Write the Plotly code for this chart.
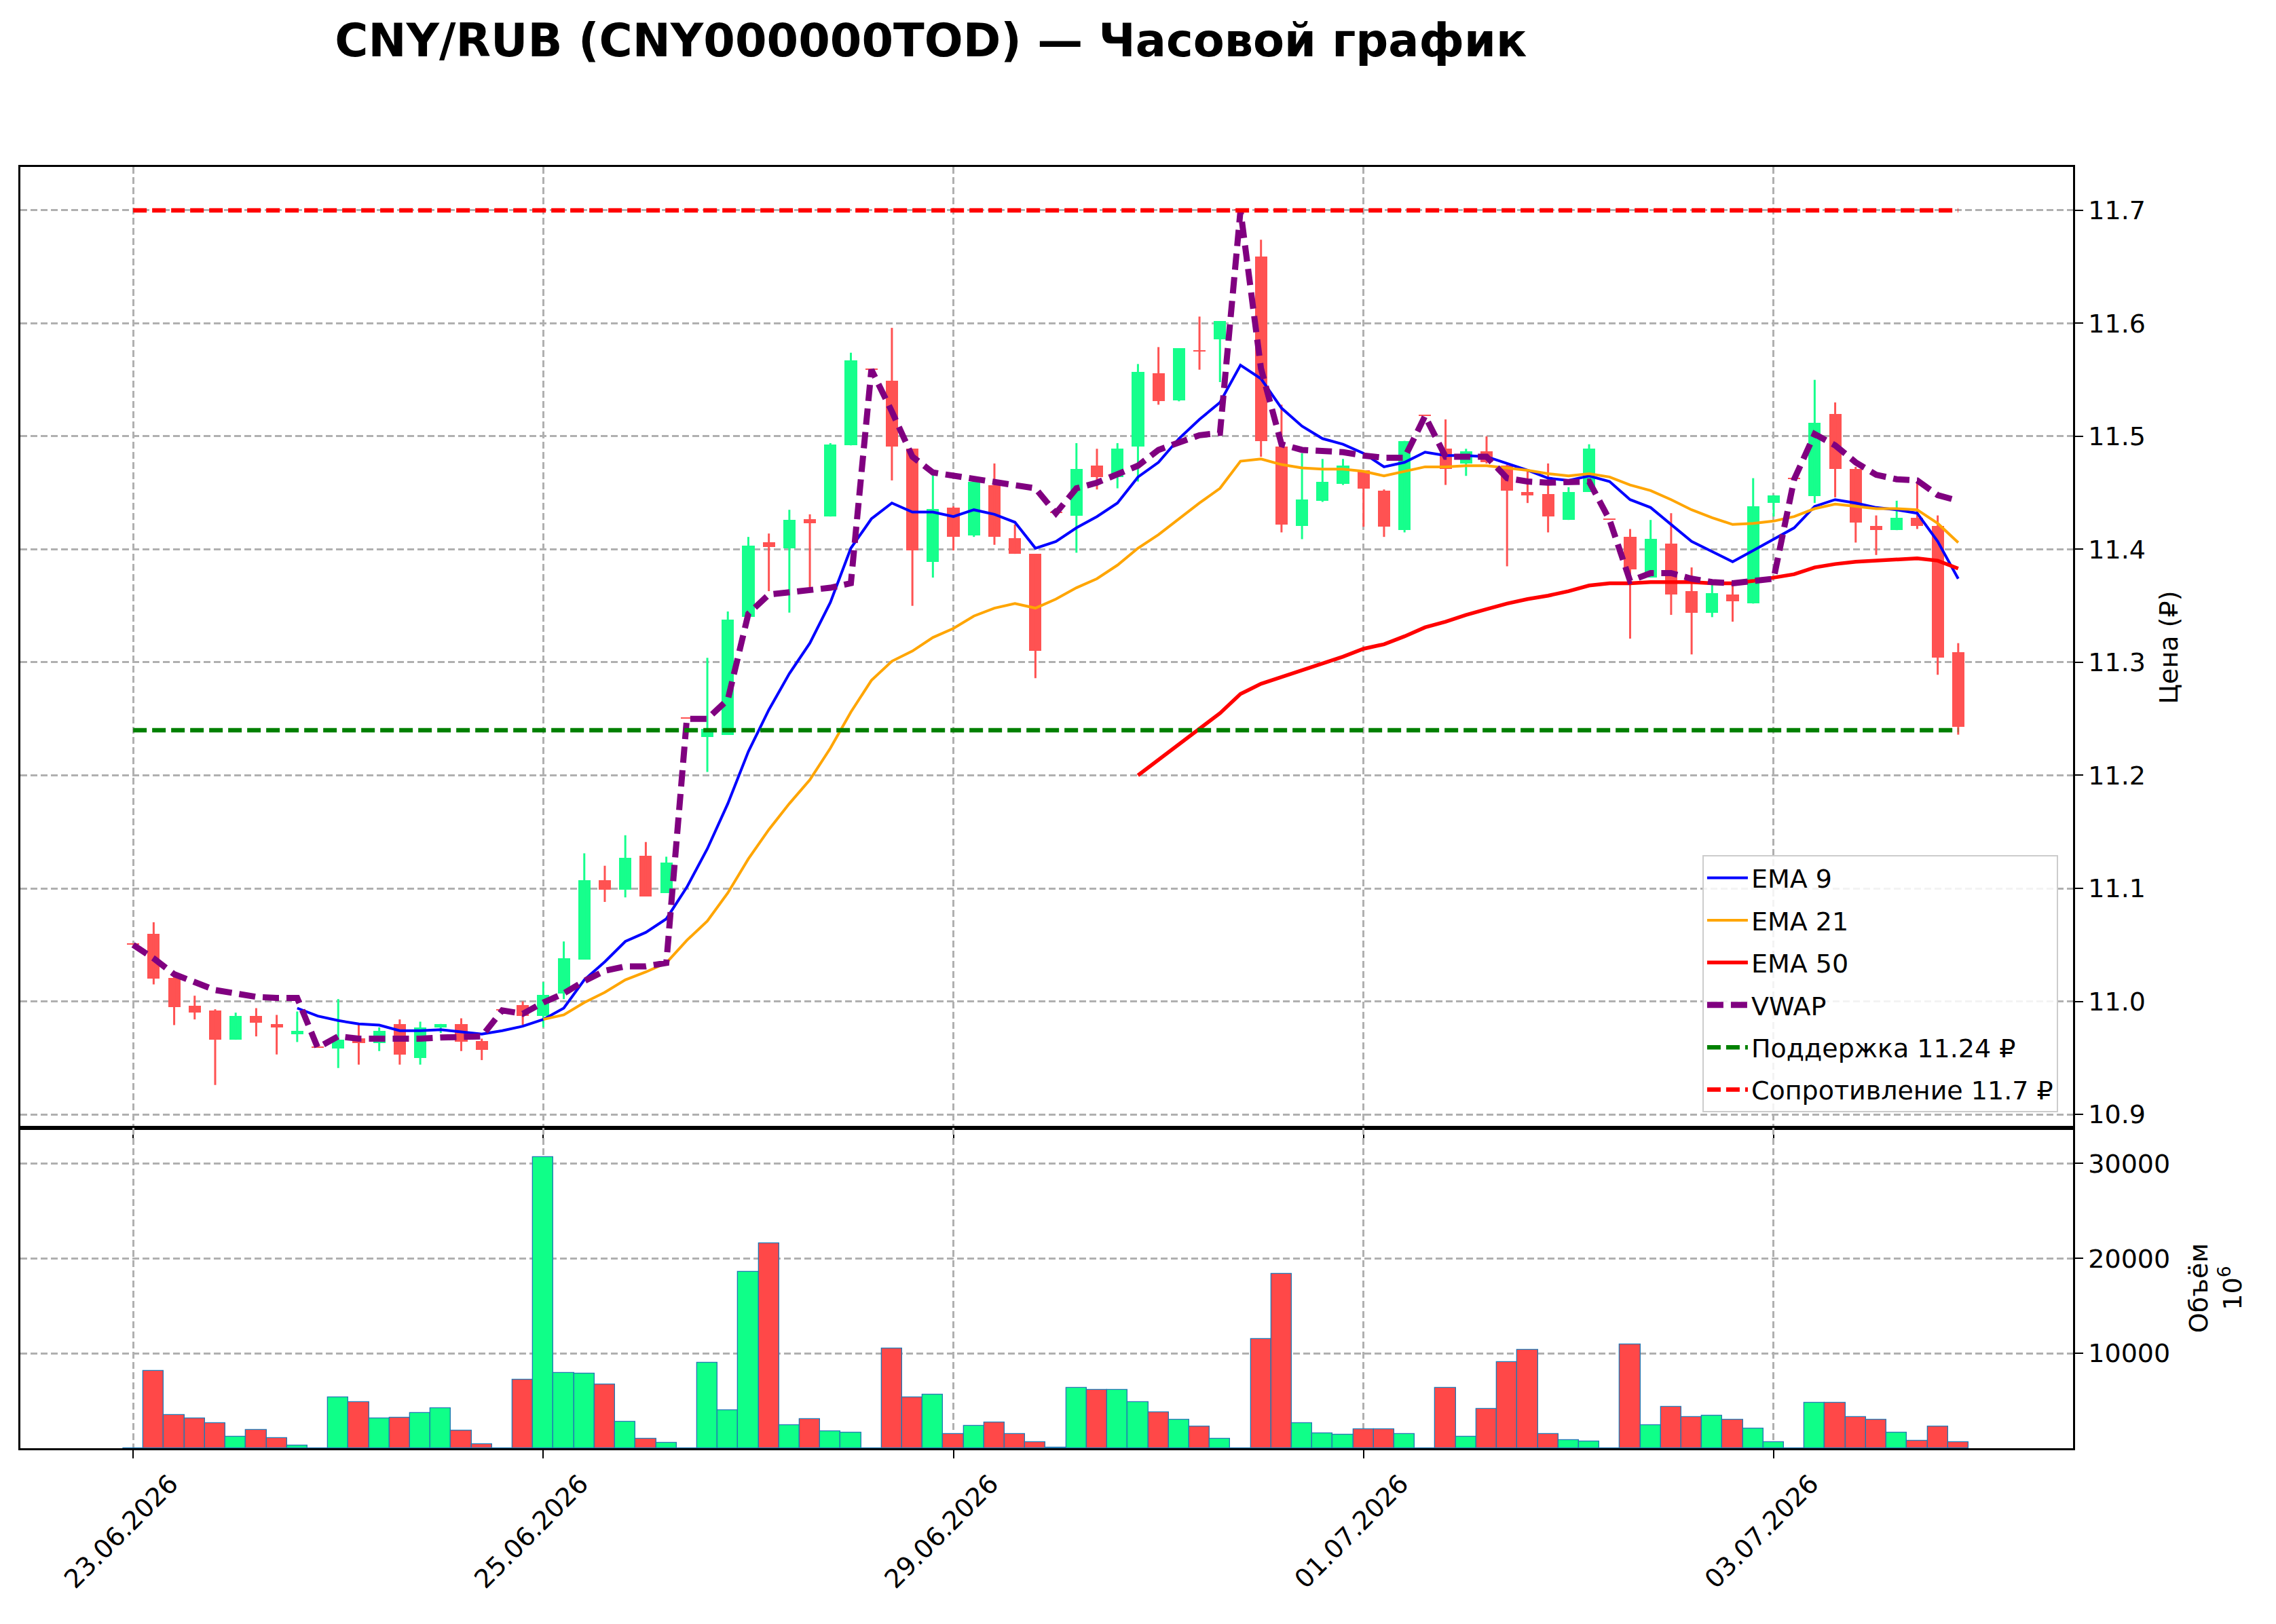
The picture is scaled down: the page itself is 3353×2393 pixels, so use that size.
import numpy as np
import plotly.graph_objects as go
from plotly.subplots import make_subplots

# ---------------- data ----------------
bar_index = list(range(90))

open_ = [11.050, 11.060, 11.021, 10.996, 10.992, 10.966, 10.987, 10.980, 10.971, 10.959,
         10.958, 10.967, 10.963, 10.980, 10.950, 10.977, 10.980, 10.965, 10.992, 10.997,
         10.987, 11.007, 11.037, 11.107, 11.099, 11.129, 11.096, 11.250, 11.234, 11.236,
         11.340, 11.406, 11.401, 11.427, 11.429, 11.492, 11.559, 11.549, 11.489, 11.389,
         11.437, 11.412, 11.457, 11.410, 11.396, 11.432, 11.430, 11.474, 11.464, 11.491,
         11.556, 11.532, 11.576, 11.586, 11.700, 11.659, 11.491, 11.421, 11.443, 11.458,
         11.470, 11.452, 11.417, 11.518, 11.489, 11.476, 11.487, 11.474, 11.451, 11.449,
         11.426, 11.451, 11.426, 11.411, 11.375, 11.405, 11.363, 11.344, 11.360, 11.352,
         11.441, 11.462, 11.447, 11.520, 11.471, 11.421, 11.417, 11.428, 11.421, 11.309]
high = [11.050, 11.070, 11.022, 11.005, 10.993, 10.990, 10.994, 10.988, 10.991, 10.959,
        11.002, 10.981, 10.977, 10.984, 10.982, 10.980, 10.985, 10.967, 10.992, 11.000,
        11.017, 11.053, 11.131, 11.120, 11.147, 11.141, 11.128, 11.250, 11.304, 11.345,
        11.411, 11.414, 11.435, 11.431, 11.494, 11.574, 11.559, 11.596, 11.489, 11.468,
        11.438, 11.462, 11.476, 11.422, 11.396, 11.432, 11.494, 11.489, 11.494, 11.564,
        11.579, 11.578, 11.606, 11.602, 11.700, 11.674, 11.528, 11.485, 11.480, 11.480,
        11.470, 11.453, 11.496, 11.518, 11.515, 11.489, 11.500, 11.475, 11.469, 11.476,
        11.455, 11.493, 11.426, 11.418, 11.426, 11.432, 11.384, 11.369, 11.370, 11.463,
        11.448, 11.462, 11.550, 11.530, 11.473, 11.430, 11.443, 11.460, 11.430, 11.317]
low = [11.050, 11.015, 10.979, 10.984, 10.926, 10.966, 10.969, 10.953, 10.964, 10.959,
       10.941, 10.944, 10.956, 10.944, 10.944, 10.972, 10.956, 10.948, 10.992, 10.979,
       10.977, 11.002, 11.037, 11.088, 11.092, 11.093, 11.096, 11.250, 11.203, 11.236,
       11.340, 11.363, 11.344, 11.362, 11.429, 11.492, 11.559, 11.461, 11.350, 11.375,
       11.399, 11.411, 11.404, 11.396, 11.286, 11.432, 11.397, 11.453, 11.454, 11.460,
       11.528, 11.531, 11.559, 11.548, 11.700, 11.482, 11.415, 11.409, 11.442, 11.457,
       11.420, 11.411, 11.415, 11.518, 11.457, 11.465, 11.476, 11.385, 11.441, 11.415,
       11.426, 11.451, 11.426, 11.321, 11.375, 11.342, 11.307, 11.340, 11.336, 11.352,
       11.429, 11.462, 11.441, 11.446, 11.406, 11.395, 11.417, 11.418, 11.289, 11.236]
close = [11.050, 11.020, 10.995, 10.990, 10.966, 10.987, 10.981, 10.977, 10.974, 10.959,
         10.966, 10.963, 10.974, 10.953, 10.977, 10.980, 10.964, 10.957, 10.992, 10.987,
         11.006, 11.038, 11.107, 11.099, 11.127, 11.093, 11.123, 11.250, 11.241, 11.338,
         11.403, 11.402, 11.426, 11.423, 11.493, 11.567, 11.559, 11.491, 11.399, 11.436,
         11.411, 11.460, 11.411, 11.396, 11.310, 11.432, 11.471, 11.464, 11.489, 11.557,
         11.531, 11.578, 11.575, 11.602, 11.700, 11.496, 11.422, 11.444, 11.460, 11.474,
         11.454, 11.420, 11.496, 11.518, 11.471, 11.487, 11.477, 11.452, 11.448, 11.429,
         11.451, 11.489, 11.426, 11.382, 11.409, 11.360, 11.344, 11.361, 11.354, 11.438,
         11.448, 11.462, 11.512, 11.471, 11.424, 11.417, 11.428, 11.421, 11.304, 11.243]
volume = [0, 8130, 3500, 3140, 2620, 1190, 1900, 1070, 290, 0,
          5330, 4850, 3140, 3210, 3710, 4210, 1860, 430, 0, 7250,
          30680, 7970, 7850, 6710, 2780, 1000, 570, 0, 8990, 4040,
          18620, 21590, 2400, 3070, 1780, 1640, 0, 10490, 5350, 5640,
          1500, 2350, 2690, 1500, 640, 60, 6330, 6140, 6140, 4850,
          3760, 2970, 2260, 980, 0, 11490, 18380, 2620, 1570, 1430,
          1970, 1970, 1500, 0, 6330, 1190, 4140, 9060, 10350, 1500,
          880, 710, 0, 10920, 2400, 4330, 3280, 3420, 2970, 2070,
          640, 0, 4780, 4780, 3280, 2970, 1640, 790, 2260, 640]

ema9 = [None] * 8 + [
    10.994, 10.987, 10.983, 10.980, 10.979, 10.974, 10.974, 10.975, 10.973, 10.971,
    10.974, 10.978, 10.984, 10.994, 11.019, 11.035, 11.053, 11.061, 11.073, 11.101,
    11.135, 11.175, 11.221, 11.258, 11.290, 11.317, 11.353, 11.401, 11.427, 11.441,
    11.433, 11.433, 11.429, 11.435, 11.431, 11.424, 11.401, 11.407, 11.419, 11.429,
    11.441, 11.464, 11.477, 11.498, 11.515, 11.530, 11.563, 11.551, 11.525, 11.509,
    11.498, 11.493, 11.485, 11.473, 11.477, 11.486, 11.483, 11.483, 11.482, 11.476,
    11.470, 11.463, 11.461, 11.465, 11.460, 11.444, 11.437, 11.422, 11.407, 11.398,
    11.389, 11.399, 11.409, 11.419, 11.438, 11.444, 11.441, 11.437, 11.435, 11.432,
    11.407, 11.374]
ema21 = [None] * 20 + [
    10.984, 10.988, 10.999, 11.008, 11.019, 11.026, 11.034, 11.054, 11.071, 11.096,
    11.126, 11.152, 11.175, 11.196, 11.224, 11.256, 11.284, 11.301, 11.310, 11.322,
    11.330, 11.341, 11.348, 11.352, 11.348, 11.356, 11.366, 11.374, 11.386, 11.401,
    11.413, 11.427, 11.441, 11.454, 11.478, 11.480, 11.475, 11.472, 11.471, 11.471,
    11.469, 11.465, 11.469, 11.473, 11.473, 11.474, 11.474, 11.472, 11.470, 11.467,
    11.465, 11.467, 11.464, 11.457, 11.452, 11.444, 11.435, 11.428, 11.422, 11.423,
    11.425, 11.429, 11.436, 11.440, 11.438, 11.436, 11.436, 11.435, 11.423, 11.406]
ema50 = [None] * 49 + [
    11.200, 11.214, 11.228, 11.241, 11.255, 11.272, 11.281, 11.287, 11.293, 11.299,
    11.305, 11.312, 11.316, 11.323, 11.331, 11.336, 11.342, 11.347, 11.352, 11.356,
    11.359, 11.363, 11.368, 11.370, 11.370, 11.371, 11.371, 11.371, 11.370, 11.370,
    11.372, 11.375, 11.378, 11.384, 11.387, 11.389, 11.390, 11.391, 11.392, 11.390,
    11.383]
vwap = [11.050, 11.038, 11.024, 11.017, 11.010, 11.007, 11.004, 11.003, 11.003, 10.959,
        10.969, 10.967, 10.967, 10.966, 10.967, 10.968, 10.968, 10.969, 10.992, 10.989,
        10.999, 11.007, 11.018, 11.027, 11.031, 11.031, 11.034, 11.250, 11.250, 11.267,
        11.343, 11.360, 11.362, 11.364, 11.366, 11.370, 11.559, 11.522, 11.482, 11.468,
        11.465, 11.463, 11.459, 11.456, 11.454, 11.432, 11.454, 11.459, 11.466, 11.474,
        11.488, 11.495, 11.501, 11.503, 11.700, 11.560, 11.493, 11.488, 11.487, 11.486,
        11.483, 11.481, 11.481, 11.518, 11.482, 11.482, 11.482, 11.463, 11.460, 11.459,
        11.459, 11.460, 11.426, 11.372, 11.379, 11.379, 11.374, 11.371, 11.370, 11.372,
        11.374, 11.462, 11.502, 11.492, 11.477, 11.466, 11.462, 11.461, 11.448, 11.443]

support_level = 11.24
resistance_level = 11.7

tick_positions = [0, 20, 40, 60, 80]
tick_labels = ["23.06.2026", "25.06.2026", "29.06.2026", "01.07.2026", "03.07.2026"]
price_ticks = [10.9, 11.0, 11.1, 11.2, 11.3, 11.4, 11.5, 11.6, 11.7]
volume_ticks = [10000, 20000, 30000]
volume_tick_labels = ["10000", "20000", "30000"]

# ---------------- styling ----------------
GREEN = "#16ff8c"
RED = "#ff5252"
VGREEN = "#0fff88"
VRED = "#ff4848"
FONT = "DejaVu Sans"
FS = 38
GRID = "#b0b0b0"

o = np.array(open_); h = np.array(high); l = np.array(low); c = np.array(close)
x = np.array(bar_index)
up = c > o
colors = np.where(up, GREEN, RED)
vcolors = np.where(up, VGREEN, VRED)

fig = make_subplots(rows=2, cols=1, shared_xaxes=True, vertical_spacing=0,
                    row_heights=[0.75, 0.25])

# wicks
for mask, col in ((up, GREEN), (~up, RED)):
    wx, wy = [], []
    for i in x[mask]:
        wx += [i, i, None]
        wy += [l[i], h[i], None]
    fig.add_trace(go.Scatter(x=wx, y=wy, mode="lines", line=dict(color=col, width=3),
                             showlegend=False, hoverinfo="skip"), row=1, col=1)

# bodies
body_low = np.minimum(o, c)
body_h = np.maximum(np.abs(c - o), 0.0013)
fig.add_trace(go.Bar(x=x, y=body_h, base=body_low, width=0.6,
                     marker=dict(color=list(colors), line=dict(width=0)),
                     showlegend=False, hoverinfo="skip"), row=1, col=1)

def add_line(y, name, color, width, dash=None):
    fig.add_trace(go.Scatter(x=x, y=y, mode="lines", name=name,
                             line=dict(color=color, width=width, dash=dash),
                             legendgroup=name, connectgaps=False), row=1, col=1)

add_line(ema9, "EMA 9", "#0000ff", 4)
add_line(ema21, "EMA 21", "#ffa500", 4)
add_line(ema50, "EMA 50", "#ff0000", 5.5)
add_line(vwap, "VWAP", "#800080", 9, dash="24px,11px")

fig.add_trace(go.Scatter(x=[x[0], x[-1]], y=[support_level, support_level], mode="lines",
                         name=f"Поддержка {support_level} ₽", legendgroup="sup",
                         line=dict(color="#008000", width=6.5, dash="20px,8px")), row=1, col=1)
fig.add_trace(go.Scatter(x=[x[0], x[-1]], y=[resistance_level, resistance_level], mode="lines",
                         name=f"Сопротивление {resistance_level} ₽", legendgroup="res",
                         line=dict(color="#ff0000", width=6.5, dash="20px,8px")), row=1, col=1)

# volume
fig.add_trace(go.Bar(x=x, y=volume, width=1.0,
                     marker=dict(color=list(vcolors), line=dict(color="#1f77b4", width=1.3)),
                     showlegend=False, hoverinfo="skip"), row=2, col=1)

x_range = [-5.5, 94.6]
axis_common = dict(showline=True, mirror=True, linecolor="black", linewidth=2.5,
                   ticks="outside", ticklen=12, tickwidth=2, tickcolor="black",
                   showgrid=True, gridcolor=GRID, gridwidth=2.5, griddash="10px,5px",
                   zeroline=False, tickfont=dict(family=FONT, size=FS, color="black"))

fig.update_xaxes(**axis_common, range=x_range, tickmode="array", tickvals=tick_positions,
                 ticktext=tick_labels)
fig.update_xaxes(showticklabels=False, row=1, col=1)
fig.update_xaxes(tickangle=-45, ticklabelshift=55, row=2, col=1)

fig.update_yaxes(**axis_common, side="right")
fig.update_yaxes(range=[10.888, 11.7384], tickmode="array", tickvals=price_ticks,
                 tickformat=".1f",
                 title=dict(text="Цена (₽)", font=dict(family=FONT, size=FS, color="black"),
                            standoff=22),
                 row=1, col=1)
fig.update_yaxes(range=[0, max(volume) * 1.1], tickmode="array", tickvals=volume_ticks,
                 ticktext=volume_tick_labels,
                 title=dict(text="Объём<br>10<sup>6</sup>",
                            font=dict(family=FONT, size=FS, color="black"), standoff=30),
                 row=2, col=1)

fig.update_layout(
    width=3353, height=2393,
    margin=dict(l=30, r=299, t=246, b=259),
    paper_bgcolor="white", plot_bgcolor="white",
    barmode="overlay", bargap=0,
    font=dict(family=FONT, size=FS, color="black"),
    title=dict(text="<b>CNY/RUB (CNY000000TOD) — Часовой график</b>",
               x=0.409, xanchor="center", xref="container",
               y=0.975, yanchor="middle", yref="container",
               font=dict(family=FONT, size=67, color="black")),
    legend=dict(x=0.9927, xanchor="right", y=0.262, yanchor="bottom",
                bgcolor="rgba(255,255,255,0.85)", bordercolor="#cccccc", borderwidth=2,
                font=dict(family=FONT, size=FS, color="black"),
                tracegroupgap=10, itemwidth=60),
    showlegend=True,
)

fig.write_html("out.html")
